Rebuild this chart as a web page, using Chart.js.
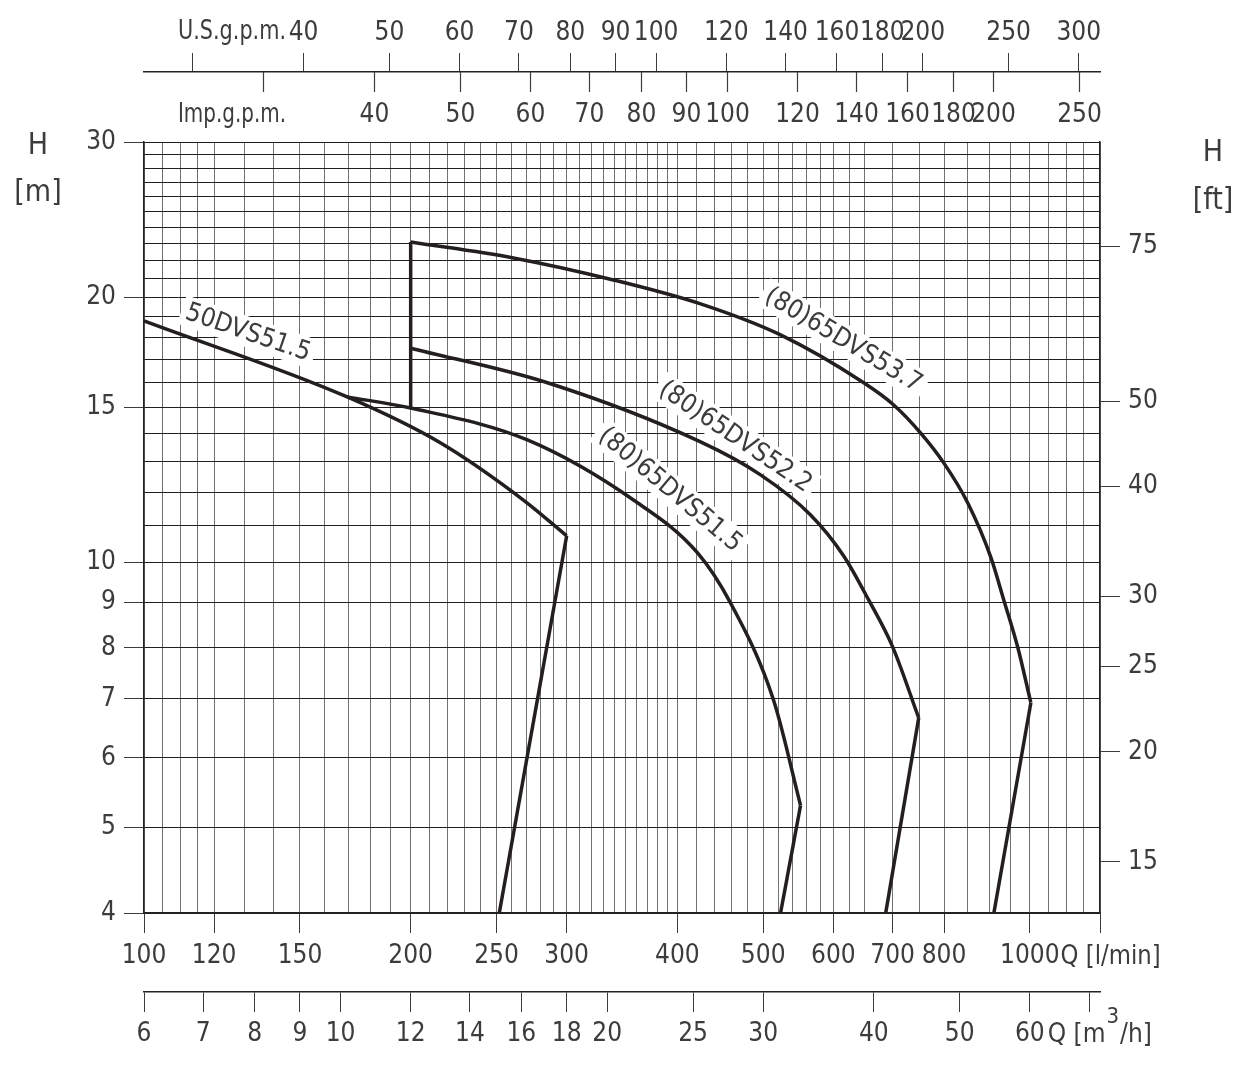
<!DOCTYPE html>
<html>
<head>
<meta charset="utf-8">
<title>DVS pump curves</title>
<script src="https://cdn.jsdelivr.net/npm/chart.js@4.4.1/dist/chart.umd.min.js"></script>
<style>
  html, body { margin: 0; padding: 0; background: #fff; }
</style>
</head>
<body>
<canvas id="pumpChart" width="1246" height="1074"></canvas>
<script>
// flow Q in l/min, head H in m
var Q_50DVS515 = [100, 169.6, 216, 268.1, 300];
var H_50DVS515 = [18.8, 15.41, 13.67, 11.77, 10.72];
var Q_50DVS515_END = [300, 251.8];
var H_50DVS515_END = [10.72, 4];

var Q_65DVS515 = [169.6, 200, 270.9, 356.9, 421.6, 459.4, 513.6, 551];
var H_65DVS515 = [15.41, 14.97, 13.77, 11.77, 10.25, 8.99, 6.98, 5.3];
var Q_65DVS515_END = [551, 523.1];
var H_65DVS515_END = [5.3, 4];

var Q_65DVS522 = [200, 285.4, 424.9, 496.6, 565.6, 616.4, 657.9, 700, 749.1];
var H_65DVS522 = [17.5, 15.99, 13.7, 12.57, 11.32, 10.17, 9.06, 8.02, 6.66];
var Q_65DVS522_END = [749.1, 687.5];
var H_65DVS522_END = [6.66, 4];

var Q_65DVS537 = [200, 261.2, 338.8, 424.9, 523.1, 649.3, 702, 753, 799.4, 851, 903.4, 934.6, 969.3, 1002.6];
var H_65DVS537 = [23.1, 22.16, 20.92, 19.65, 18.12, 15.99, 15.09, 14.02, 12.97, 11.68, 10.14, 9.06, 8.0, 6.93];
var Q_65DVS537_END = [1002.6, 910.7];
var H_65DVS537_END = [6.93, 4];

// vertical limit at 200 l/min
var Q_LIMIT = [200, 200];
var H_LIMIT = [15, 23.1];

// axes
var X_GRID = [100, 105, 110, 115, 120, 130, 140, 150, 160, 170, 180, 190, 200, 210, 220, 230, 240, 250, 260, 270,
  280, 290, 300, 310, 320, 330, 340, 350, 360, 370, 380, 390, 400, 420, 440, 460, 480, 500, 520, 540, 560, 580,
  600, 625, 650, 700, 750, 800, 850, 900, 950, 1000, 1050, 1100, 1150, 1200];
var X_LABELS = [100, 120, 150, 200, 250, 300, 400, 500, 600, 700, 800, 1000];
var Y_GRID = [4, 5, 6, 7, 8, 9, 10, 11, 12, 13, 14, 15, 16, 17, 18, 19, 20, 21, 22, 23, 24, 25, 26, 27, 28, 29, 30];
var Y_LABELS = [4, 5, 6, 7, 8, 9, 10, 15, 20, 30];
var FT_TICKS = [15, 20, 25, 30, 40, 50, 75];
var USGPM_TICKS = [30, 40, 50, 60, 70, 80, 90, 100, 120, 140, 160, 180, 200, 250, 300];
var USGPM_LABELS = [40, 50, 60, 70, 80, 90, 100, 120, 140, 160, 180, 200, 250, 300];
var IMPGPM_TICKS = [30, 40, 50, 60, 70, 80, 90, 100, 120, 140, 160, 180, 200, 250];
var IMPGPM_LABELS = [40, 50, 60, 70, 80, 90, 100, 120, 140, 160, 180, 200, 250];
var M3H_TICKS = [6, 7, 8, 9, 10, 12, 14, 16, 18, 20, 25, 30, 40, 50, 60, 70];
var M3H_LABELS = [6, 7, 8, 9, 10, 12, 14, 16, 18, 20, 25, 30, 40, 50, 60];

var L_PER_USG = 3.78541;
var L_PER_IMPG = 4.54609;
var M_PER_FT = 0.3048;

var FONT = '"DejaVu Sans Condensed", "Liberation Sans Narrow", sans-serif';
var INK = '#3c3c3c';
var CURVE = '#231f20';

// curve names, placed along each curve
var TAGS = [
  { text: '50DVS51.5', q: 131.1, h: 18.25, angle: 19 },
  { text: '(80)65DVS53.7', q: 616.4, h: 17.9, angle: 31 },
  { text: '(80)65DVS52.2', q: 465.4, h: 13.9, angle: 34 },
  { text: '(80)65DVS51.5', q: 393, h: 12.1, angle: 40 }
];

function pts(qs, hs) {
  return qs.map(function(q, i) { return { x: q, y: hs[i] }; });
}

function curve(label, qs, hs, smooth) {
  return {
    label: label,
    data: pts(qs, hs),
    showLine: true,
    borderColor: CURVE,
    borderWidth: 3.5,
    pointRadius: 0,
    tension: smooth ? 0.4 : 0,
    cubicInterpolationMode: smooth ? 'monotone' : 'default',
    fill: false
  };
}

function fixTicks(list) {
  return function(scale) {
    scale.ticks = list.map(function(v) { return { value: v }; });
  };
}

function has(list, v) {
  return list.indexOf(v) >= 0;
}

var overlay = {
  id: 'overlay',
  beforeDatasetsDraw: function(chart) {
    var ctx = chart.ctx;
    var x = chart.scales.x, y = chart.scales.y;
    ctx.save();
    ctx.font = '26px ' + FONT;
    ctx.textAlign = 'center';
    ctx.textBaseline = 'middle';
    TAGS.forEach(function(t) {
      var px = x.getPixelForValue(t.q), py = y.getPixelForValue(t.h);
      var w = ctx.measureText(t.text).width;
      ctx.save();
      ctx.translate(px, py);
      ctx.rotate(t.angle * Math.PI / 180);
      ctx.fillStyle = '#fff';
      ctx.fillRect(-w / 2 - 5, -15, w + 10, 30);
      ctx.fillStyle = INK;
      ctx.fillText(t.text, 0, 1);
      ctx.restore();
    });
    ctx.restore();
  },
  afterDraw: function(chart) {
    var ctx = chart.ctx;
    var x = chart.scales.x, imp = chart.scales.ximp;
    var top = chart.scales.xus.bottom;
    ctx.save();
    ctx.strokeStyle = INK;
    ctx.fillStyle = INK;
    ctx.lineWidth = 1.2;
    ctx.font = '26px ' + FONT;
    ctx.textAlign = 'center';
    ctx.textBaseline = 'middle';

    // Imp. gallons hang under the U.S. gallon line
    IMPGPM_TICKS.forEach(function(v) {
      var px = Math.round(imp.getPixelForValue(v)) + 0.5;
      ctx.beginPath();
      ctx.moveTo(px, top);
      ctx.lineTo(px, top + 20);
      ctx.stroke();
      if (has(IMPGPM_LABELS, v)) ctx.fillText(String(v), px, top + 43);
    });

    ctx.textAlign = 'left';
    ctx.fillText('U.S.g.p.m.', 178, 32, 108);
    ctx.fillText('Imp.g.p.m.', 178, top + 43, 108);

    // unit suffixes after the last labels
    var q1000 = x.getPixelForValue(1000);
    var w1000 = ctx.measureText('1000').width;
    ctx.fillText('Q [l/min]', q1000 + w1000 / 2 + 1, 957, 100);
    var w60 = ctx.measureText('60').width;
    var sx = q1000 + w60 / 2 + 3;
    ctx.fillText('Q [m', sx, 1035);
    var wm = ctx.measureText('Q [m').width;
    ctx.font = '22px ' + FONT;
    ctx.fillText('3', sx + wm + 1, 1017);
    var w3 = ctx.measureText('3').width;
    ctx.font = '26px ' + FONT;
    ctx.fillText('/h]', sx + wm + w3 + 2, 1035);

    // head titles
    ctx.font = '30px ' + FONT;
    ctx.textAlign = 'center';
    ctx.fillText('H', 38, 146);
    ctx.fillText('[m]', 38, 193);
    ctx.fillText('H', 1213, 153);
    ctx.fillText('[ft]', 1213, 201);
    ctx.restore();
  }
};

Chart.defaults.font.family = FONT;
Chart.defaults.font.size = 26;
Chart.defaults.color = INK;

new Chart(document.getElementById('pumpChart'), {
  type: 'scatter',
  data: {
    datasets: [
      curve('50DVS51.5', Q_50DVS515, H_50DVS515, true),
      curve('50DVS51.5', Q_50DVS515_END, H_50DVS515_END, false),
      curve('(80)65DVS51.5', Q_65DVS515, H_65DVS515, true),
      curve('(80)65DVS51.5', Q_65DVS515_END, H_65DVS515_END, false),
      curve('(80)65DVS52.2', Q_65DVS522, H_65DVS522, true),
      curve('(80)65DVS52.2', Q_65DVS522_END, H_65DVS522_END, false),
      curve('(80)65DVS53.7', Q_65DVS537, H_65DVS537, true),
      curve('(80)65DVS53.7', Q_65DVS537_END, H_65DVS537_END, false),
      curve('limit', Q_LIMIT, H_LIMIT, false)
    ]
  },
  options: {
    responsive: false,
    animation: false,
    events: [],
    devicePixelRatio: 1,
    layout: { padding: 0 },
    plugins: { legend: { display: false }, tooltip: { enabled: false } },
    scales: {
      x: {
        type: 'logarithmic', position: 'bottom', min: 100, max: 1200,
        afterBuildTicks: fixTicks(X_GRID),
        afterFit: function(s) { s.height = 79; },
        grid: {
          color: '#727272', lineWidth: 1, tickLength: 20,
          tickColor: function(c) { return c.tick && (has(X_LABELS, c.tick.value) || c.tick.value === 1200) ? INK : 'rgba(0,0,0,0)'; }
        },
        border: { color: '#222', width: 1.5 },
        ticks: {
          autoSkip: false, maxRotation: 0, padding: 8,
          callback: function(v) { return has(X_LABELS, v) ? String(v) : ''; }
        }
      },
      xm3: {
        type: 'logarithmic', position: 'bottom', weight: 1,
        min: 100 * 0.06, max: 1200 * 0.06,
        afterBuildTicks: fixTicks(M3H_TICKS),
        afterFit: function(s) { s.height = 82; },
        grid: { drawOnChartArea: false, tickLength: 20, color: INK },
        border: { color: '#222', width: 1.5 },
        ticks: {
          autoSkip: false, maxRotation: 0, padding: 7,
          callback: function(v) { return has(M3H_LABELS, v) ? String(v) : ''; }
        }
      },
      xus: {
        type: 'logarithmic', position: 'top', weight: 1,
        min: 100 / L_PER_USG, max: 1200 / L_PER_USG,
        afterBuildTicks: fixTicks(USGPM_TICKS),
        afterFit: function(s) { s.height = 72; },
        grid: { drawOnChartArea: false, tickLength: 19, color: INK },
        border: { color: '#222', width: 1.5 },
        ticks: {
          autoSkip: false, maxRotation: 0, padding: 4,
          callback: function(v) { return has(USGPM_LABELS, v) ? String(v) : ''; }
        }
      },
      ximp: {
        type: 'logarithmic', position: 'top', weight: 0,
        min: 100 / L_PER_IMPG, max: 1200 / L_PER_IMPG,
        afterBuildTicks: fixTicks(IMPGPM_TICKS),
        afterFit: function(s) { s.height = 70; },
        grid: { display: false },
        border: { display: false },
        ticks: { display: false }
      },
      y: {
        type: 'logarithmic', position: 'left', min: 4, max: 30,
        afterBuildTicks: fixTicks(Y_GRID),
        afterFit: function(s) { s.width = 144; },
        grid: {
          color: '#1e1e1e', lineWidth: 1, tickLength: 20,
          tickColor: function(c) { return c.tick && has(Y_LABELS, c.tick.value) ? INK : 'rgba(0,0,0,0)'; }
        },
        border: { color: '#222', width: 1.5 },
        ticks: {
          autoSkip: false, padding: 8,
          callback: function(v) { return has(Y_LABELS, v) ? String(v) : ''; }
        }
      },
      yft: {
        type: 'logarithmic', position: 'right',
        min: 4 / M_PER_FT, max: 30 / M_PER_FT,
        afterBuildTicks: fixTicks(FT_TICKS),
        afterFit: function(s) { s.width = 146; },
        grid: { drawOnChartArea: false, tickLength: 20, color: INK },
        border: { color: '#222', width: 1.5 },
        ticks: {
          autoSkip: false, padding: 8,
          callback: function(v) { return String(v); }
        }
      }
    }
  },
  plugins: [overlay]
});
</script>
</body>
</html>
